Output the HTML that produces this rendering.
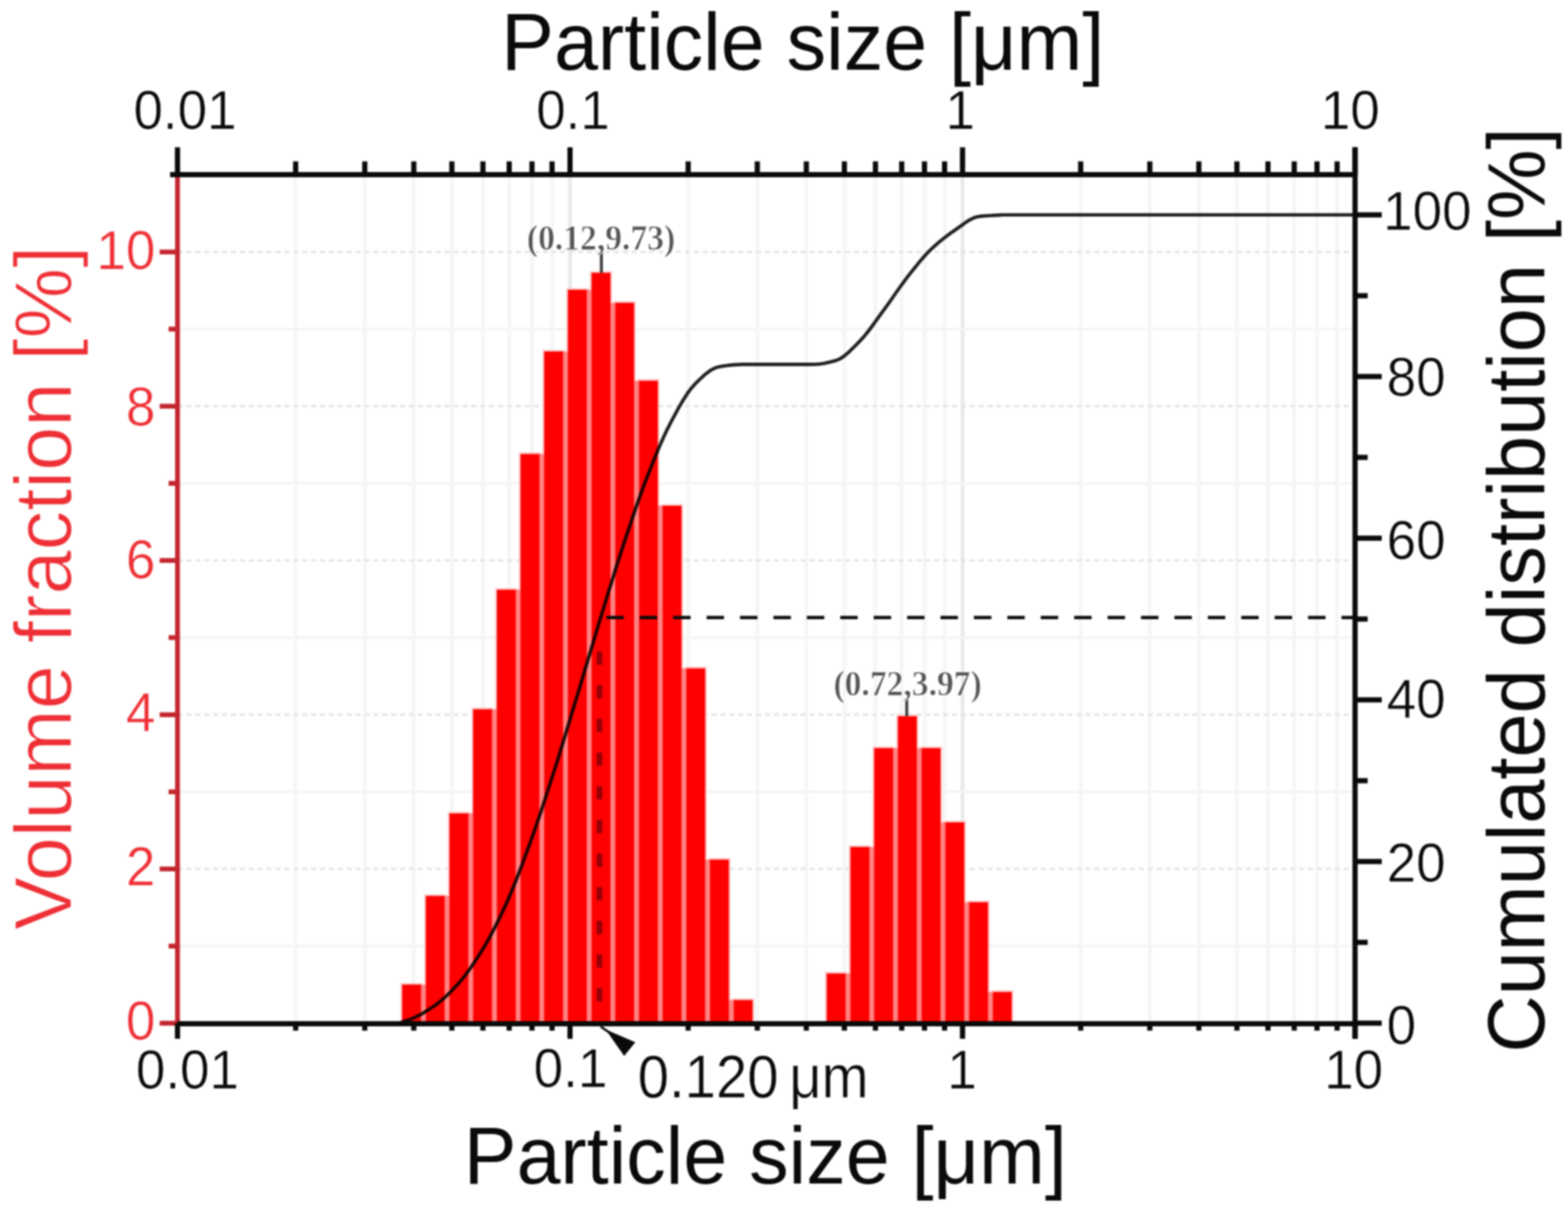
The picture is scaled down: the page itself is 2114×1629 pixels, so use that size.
<!DOCTYPE html>
<html><head><meta charset="utf-8"><title>Particle size distribution</title>
<style>
html,body{margin:0;padding:0;background:#fff;}
body{width:2114px;height:1629px;overflow:hidden;}
svg{display:block;filter:blur(0.9px);}
.s{font-family:"Liberation Sans",Arial,Helvetica,sans-serif;}
.lt{font-family:"Liberation Sans",Arial,Helvetica,sans-serif;stroke:#fff;stroke-width:1.3px;paint-order:fill;}
.l{font-family:"Liberation Sans",Arial,Helvetica,sans-serif;stroke:#fff;stroke-width:0.6px;paint-order:fill;}
.f{font-family:"Liberation Serif","Times New Roman",serif;stroke:#fff;stroke-width:0.8px;paint-order:fill;}
</style></head><body>
<svg width="2114" height="1629" viewBox="0 0 2114 1629">
<rect width="2114" height="1629" fill="#ffffff"/>
<g stroke="#f6f6f6" stroke-width="5" fill="none">
<line x1="398.6" y1="235.6" x2="398.6" y2="1379.8"/>
<line x1="491.8" y1="235.6" x2="491.8" y2="1379.8"/>
<line x1="557.9" y1="235.6" x2="557.9" y2="1379.8"/>
<line x1="609.2" y1="235.6" x2="609.2" y2="1379.8"/>
<line x1="651.1" y1="235.6" x2="651.1" y2="1379.8"/>
<line x1="686.5" y1="235.6" x2="686.5" y2="1379.8"/>
<line x1="717.2" y1="235.6" x2="717.2" y2="1379.8"/>
<line x1="744.3" y1="235.6" x2="744.3" y2="1379.8"/>
<line x1="768.5" y1="235.6" x2="768.5" y2="1379.8" stroke="#e9e9e9"/>
<line x1="927.8" y1="235.6" x2="927.8" y2="1379.8"/>
<line x1="1021.0" y1="235.6" x2="1021.0" y2="1379.8"/>
<line x1="1087.1" y1="235.6" x2="1087.1" y2="1379.8"/>
<line x1="1138.4" y1="235.6" x2="1138.4" y2="1379.8"/>
<line x1="1180.3" y1="235.6" x2="1180.3" y2="1379.8"/>
<line x1="1215.7" y1="235.6" x2="1215.7" y2="1379.8"/>
<line x1="1246.4" y1="235.6" x2="1246.4" y2="1379.8"/>
<line x1="1273.5" y1="235.6" x2="1273.5" y2="1379.8"/>
<line x1="1297.7" y1="235.6" x2="1297.7" y2="1379.8" stroke="#e9e9e9"/>
<line x1="1457.0" y1="235.6" x2="1457.0" y2="1379.8"/>
<line x1="1550.2" y1="235.6" x2="1550.2" y2="1379.8"/>
<line x1="1616.3" y1="235.6" x2="1616.3" y2="1379.8"/>
<line x1="1667.6" y1="235.6" x2="1667.6" y2="1379.8"/>
<line x1="1709.5" y1="235.6" x2="1709.5" y2="1379.8"/>
<line x1="1744.9" y1="235.6" x2="1744.9" y2="1379.8"/>
<line x1="1775.6" y1="235.6" x2="1775.6" y2="1379.8"/>
<line x1="1802.7" y1="235.6" x2="1802.7" y2="1379.8"/>
</g>
<g fill="none">
<line x1="239.3" y1="1275.8" x2="1826.9" y2="1275.8" stroke="#f5f5f5" stroke-width="4"/>
<line x1="239.3" y1="1171.8" x2="1826.9" y2="1171.8" stroke="#e4e4e4" stroke-width="3" stroke-dasharray="7 5"/>
<line x1="239.3" y1="1067.8" x2="1826.9" y2="1067.8" stroke="#f5f5f5" stroke-width="4"/>
<line x1="239.3" y1="963.8" x2="1826.9" y2="963.8" stroke="#e4e4e4" stroke-width="3" stroke-dasharray="7 5"/>
<line x1="239.3" y1="859.8" x2="1826.9" y2="859.8" stroke="#f5f5f5" stroke-width="4"/>
<line x1="239.3" y1="755.8" x2="1826.9" y2="755.8" stroke="#e4e4e4" stroke-width="3" stroke-dasharray="7 5"/>
<line x1="239.3" y1="651.8" x2="1826.9" y2="651.8" stroke="#f5f5f5" stroke-width="4"/>
<line x1="239.3" y1="547.8" x2="1826.9" y2="547.8" stroke="#e4e4e4" stroke-width="3" stroke-dasharray="7 5"/>
<line x1="239.3" y1="443.8" x2="1826.9" y2="443.8" stroke="#f5f5f5" stroke-width="4"/>
<line x1="239.3" y1="339.8" x2="1826.9" y2="339.8" stroke="#e4e4e4" stroke-width="3" stroke-dasharray="7 5"/>
</g>
<g>
<rect x="540.0" y="1325.6" width="29.8" height="54.2" fill="#ffc4c4"/>
<rect x="571.9" y="1206.0" width="29.8" height="173.8" fill="#ffc4c4"/>
<rect x="603.8" y="1094.7" width="29.8" height="285.1" fill="#ffc4c4"/>
<rect x="635.7" y="954.3" width="29.8" height="425.5" fill="#ffc4c4"/>
<rect x="667.7" y="793.1" width="29.8" height="586.7" fill="#ffc4c4"/>
<rect x="699.6" y="610.1" width="29.8" height="769.7" fill="#ffc4c4"/>
<rect x="731.5" y="471.8" width="29.8" height="908.0" fill="#ffc4c4"/>
<rect x="763.5" y="388.6" width="29.8" height="991.2" fill="#ffc4c4"/>
<rect x="795.4" y="365.7" width="29.8" height="1014.1" fill="#ffc4c4"/>
<rect x="827.3" y="406.2" width="29.8" height="973.6" fill="#ffc4c4"/>
<rect x="859.3" y="511.3" width="29.8" height="868.5" fill="#ffc4c4"/>
<rect x="891.2" y="679.8" width="29.8" height="700.0" fill="#ffc4c4"/>
<rect x="923.1" y="899.2" width="29.8" height="480.6" fill="#ffc4c4"/>
<rect x="955.0" y="1157.1" width="29.8" height="222.7" fill="#ffc4c4"/>
<rect x="987.0" y="1346.4" width="29.8" height="33.4" fill="#ffc4c4"/>
<rect x="1112.4" y="1310.6" width="29.8" height="69.2" fill="#ffc4c4"/>
<rect x="1144.4" y="1140.0" width="29.8" height="239.8" fill="#ffc4c4"/>
<rect x="1176.4" y="1006.7" width="29.8" height="373.1" fill="#ffc4c4"/>
<rect x="1208.4" y="963.7" width="29.8" height="416.1" fill="#ffc4c4"/>
<rect x="1240.4" y="1006.7" width="29.8" height="373.1" fill="#ffc4c4"/>
<rect x="1272.4" y="1106.8" width="29.8" height="273.0" fill="#ffc4c4"/>
<rect x="1304.4" y="1214.5" width="29.8" height="165.3" fill="#ffc4c4"/>
<rect x="1336.4" y="1335.5" width="29.8" height="44.3" fill="#ffc4c4"/>
<rect x="567.1" y="1327.8" width="7.5" height="52.0" fill="#ff8282"/>
<rect x="599.0" y="1208.2" width="7.5" height="171.6" fill="#ff8282"/>
<rect x="630.9" y="1096.9" width="7.5" height="282.9" fill="#ff8282"/>
<rect x="662.9" y="956.5" width="7.5" height="423.3" fill="#ff8282"/>
<rect x="694.8" y="795.3" width="7.5" height="584.5" fill="#ff8282"/>
<rect x="726.7" y="612.3" width="7.5" height="767.5" fill="#ff8282"/>
<rect x="758.6" y="474.0" width="7.5" height="905.8" fill="#ff8282"/>
<rect x="790.6" y="390.8" width="7.5" height="989.0" fill="#ff8282"/>
<rect x="822.5" y="408.4" width="7.5" height="971.4" fill="#ff8282"/>
<rect x="854.4" y="513.5" width="7.5" height="866.3" fill="#ff8282"/>
<rect x="886.4" y="682.0" width="7.5" height="697.8" fill="#ff8282"/>
<rect x="918.3" y="901.4" width="7.5" height="478.4" fill="#ff8282"/>
<rect x="950.2" y="1159.3" width="7.5" height="220.5" fill="#ff8282"/>
<rect x="982.1" y="1348.6" width="7.5" height="31.2" fill="#ff8282"/>
<rect x="1139.5" y="1312.8" width="7.6" height="67.0" fill="#ff8282"/>
<rect x="1171.5" y="1142.2" width="7.6" height="237.6" fill="#ff8282"/>
<rect x="1203.5" y="1008.9" width="7.6" height="370.9" fill="#ff8282"/>
<rect x="1235.5" y="1008.9" width="7.6" height="370.9" fill="#ff8282"/>
<rect x="1267.5" y="1109.0" width="7.6" height="270.8" fill="#ff8282"/>
<rect x="1299.5" y="1216.7" width="7.6" height="163.1" fill="#ff8282"/>
<rect x="1331.5" y="1337.7" width="7.6" height="42.1" fill="#ff8282"/>
<rect x="542.2" y="1327.8" width="25.4" height="52.0" fill="#ff0000"/>
<rect x="574.1" y="1208.2" width="25.4" height="171.6" fill="#ff0000"/>
<rect x="606.0" y="1096.9" width="25.4" height="282.9" fill="#ff0000"/>
<rect x="637.9" y="956.5" width="25.4" height="423.3" fill="#ff0000"/>
<rect x="669.9" y="795.3" width="25.4" height="584.5" fill="#ff0000"/>
<rect x="701.8" y="612.3" width="25.4" height="767.5" fill="#ff0000"/>
<rect x="733.7" y="474.0" width="25.4" height="905.8" fill="#ff0000"/>
<rect x="765.7" y="390.8" width="25.4" height="989.0" fill="#ff0000"/>
<rect x="797.6" y="367.9" width="25.4" height="1011.9" fill="#ff0000"/>
<rect x="829.5" y="408.4" width="25.4" height="971.4" fill="#ff0000"/>
<rect x="861.5" y="513.5" width="25.4" height="866.3" fill="#ff0000"/>
<rect x="893.4" y="682.0" width="25.4" height="697.8" fill="#ff0000"/>
<rect x="925.3" y="901.4" width="25.4" height="478.4" fill="#ff0000"/>
<rect x="957.2" y="1159.3" width="25.4" height="220.5" fill="#ff0000"/>
<rect x="989.2" y="1348.6" width="25.4" height="31.2" fill="#ff0000"/>
<rect x="1114.6" y="1312.8" width="25.4" height="67.0" fill="#ff0000"/>
<rect x="1146.6" y="1142.2" width="25.4" height="237.6" fill="#ff0000"/>
<rect x="1178.6" y="1008.9" width="25.4" height="370.9" fill="#ff0000"/>
<rect x="1210.6" y="965.9" width="25.4" height="413.9" fill="#ff0000"/>
<rect x="1242.6" y="1008.9" width="25.4" height="370.9" fill="#ff0000"/>
<rect x="1274.6" y="1109.0" width="25.4" height="270.8" fill="#ff0000"/>
<rect x="1306.6" y="1216.7" width="25.4" height="163.1" fill="#ff0000"/>
<rect x="1338.6" y="1337.7" width="25.4" height="42.1" fill="#ff0000"/>
</g>
<line x1="817.5" y1="832.8" x2="1826.9" y2="832.8" stroke="#0a0a0a" stroke-width="4.6" stroke-dasharray="23.5 21.55"/>
<line x1="808.2" y1="878.6" x2="808.2" y2="1379.8" stroke="#960008" stroke-width="7.5" stroke-dasharray="18 27.38"/>
<path d="M537.3,1379.8 L540.1,1378.9 L542.8,1378.1 L545.6,1377.2 L548.3,1376.3 L551.1,1375.4 L553.9,1374.3 L559.2,1372.0 L564.5,1369.4 L569.8,1366.5 L575.1,1363.3 L580.5,1359.9 L585.8,1356.3 L591.1,1352.3 L596.4,1347.9 L601.8,1343.1 L607.1,1337.9 L612.4,1332.4 L617.7,1326.6 L623.0,1320.4 L628.4,1313.6 L633.7,1306.3 L639.0,1298.6 L644.3,1290.5 L649.6,1282.1 L655.0,1273.2 L660.3,1263.7 L665.6,1253.7 L670.9,1243.1 L676.3,1232.1 L681.6,1220.7 L686.9,1208.7 L692.2,1195.9 L697.5,1182.6 L702.9,1168.7 L708.2,1154.5 L713.5,1140.0 L718.8,1125.2 L724.2,1109.8 L729.5,1093.9 L734.8,1077.8 L740.1,1061.4 L745.4,1044.9 L750.8,1028.1 L756.1,1011.0 L761.4,993.6 L766.7,976.1 L772.0,958.5 L777.4,940.9 L782.7,923.3 L788.0,905.5 L793.3,887.6 L798.7,869.8 L804.0,852.1 L809.3,834.6 L814.6,817.2 L819.9,799.8 L825.3,782.6 L830.6,765.5 L835.9,748.8 L841.2,732.5 L846.6,716.5 L851.9,700.7 L857.2,685.1 L862.5,670.0 L867.8,655.4 L873.2,641.5 L878.5,628.0 L883.8,614.9 L889.1,602.1 L894.4,590.0 L899.8,578.6 L905.1,568.2 L910.4,558.3 L915.7,548.6 L921.1,539.5 L926.4,531.2 L931.7,523.9 L937.0,517.9 L942.3,512.6 L947.7,507.6 L953.0,503.1 L958.3,499.2 L963.6,496.4 L968.9,494.7 L974.3,493.8 L979.6,493.0 L984.9,492.4 L990.2,491.9 L995.6,491.6 L1000.9,491.4 L1016.6,491.4 L1032.4,491.4 L1048.1,491.4 L1063.8,491.4 L1079.6,491.4 L1095.3,491.4 L1100.6,491.3 L1106.0,490.7 L1111.3,489.9 L1116.6,488.7 L1122.0,487.4 L1127.3,486.0 L1132.6,483.8 L1138.0,480.3 L1143.3,475.8 L1148.6,470.7 L1154.0,465.3 L1159.3,459.8 L1164.6,454.1 L1170.0,447.5 L1175.3,440.5 L1180.6,433.2 L1186.0,425.7 L1191.3,418.4 L1196.6,411.1 L1202.0,403.5 L1207.3,395.8 L1212.6,388.2 L1218.0,380.8 L1223.3,373.7 L1228.6,366.9 L1234.0,360.2 L1239.3,353.6 L1244.6,347.4 L1250.0,341.5 L1255.3,336.1 L1260.6,331.2 L1266.0,326.6 L1271.3,322.2 L1276.6,318.1 L1282.0,314.2 L1287.3,310.5 L1292.6,306.7 L1298.0,302.8 L1303.3,299.0 L1308.6,295.8 L1314.0,293.3 L1319.3,292.0 L1324.6,291.4 L1330.0,291.0 L1335.3,290.7 L1340.6,290.4 L1346.0,290.1 L1351.3,289.8 L1826.9,289.8" fill="none" stroke="#000000" stroke-opacity="0.88" stroke-width="4.6" stroke-linejoin="round"/>
<g stroke="#c3262f" stroke-width="6.5" fill="none">
<line x1="239.3" y1="235.6" x2="239.3" y2="1382.8"/>
<line x1="215.3" y1="1379.8" x2="239.3" y2="1379.8"/>
<line x1="227.3" y1="1275.8" x2="239.3" y2="1275.8"/>
<line x1="215.3" y1="1171.8" x2="239.3" y2="1171.8"/>
<line x1="227.3" y1="1067.8" x2="239.3" y2="1067.8"/>
<line x1="215.3" y1="963.8" x2="239.3" y2="963.8"/>
<line x1="227.3" y1="859.8" x2="239.3" y2="859.8"/>
<line x1="215.3" y1="755.8" x2="239.3" y2="755.8"/>
<line x1="227.3" y1="651.8" x2="239.3" y2="651.8"/>
<line x1="215.3" y1="547.8" x2="239.3" y2="547.8"/>
<line x1="227.3" y1="443.8" x2="239.3" y2="443.8"/>
<line x1="215.3" y1="339.8" x2="239.3" y2="339.8"/>
</g>
<g stroke="#0a0a0a" stroke-width="7" fill="none">
<line x1="229.3" y1="235.6" x2="1829.9" y2="235.6"/>
<line x1="239.3" y1="1380.6" x2="1829.9" y2="1380.6"/>
<line x1="1826.9" y1="198.6" x2="1826.9" y2="1400.8"/>
<line x1="239.3" y1="198.6" x2="239.3" y2="235.6"/>
<line x1="239.3" y1="1379.8" x2="239.3" y2="1400.8"/>
<line x1="398.6" y1="217.6" x2="398.6" y2="235.6"/>
<line x1="398.6" y1="1379.8" x2="398.6" y2="1389.8"/>
<line x1="491.8" y1="217.6" x2="491.8" y2="235.6"/>
<line x1="491.8" y1="1379.8" x2="491.8" y2="1389.8"/>
<line x1="557.9" y1="217.6" x2="557.9" y2="235.6"/>
<line x1="557.9" y1="1379.8" x2="557.9" y2="1389.8"/>
<line x1="609.2" y1="217.6" x2="609.2" y2="235.6"/>
<line x1="609.2" y1="1379.8" x2="609.2" y2="1389.8"/>
<line x1="651.1" y1="217.6" x2="651.1" y2="235.6"/>
<line x1="651.1" y1="1379.8" x2="651.1" y2="1389.8"/>
<line x1="686.5" y1="217.6" x2="686.5" y2="235.6"/>
<line x1="686.5" y1="1379.8" x2="686.5" y2="1389.8"/>
<line x1="717.2" y1="217.6" x2="717.2" y2="235.6"/>
<line x1="717.2" y1="1379.8" x2="717.2" y2="1389.8"/>
<line x1="744.3" y1="217.6" x2="744.3" y2="235.6"/>
<line x1="744.3" y1="1379.8" x2="744.3" y2="1389.8"/>
<line x1="768.5" y1="198.6" x2="768.5" y2="235.6"/>
<line x1="768.5" y1="1379.8" x2="768.5" y2="1400.8"/>
<line x1="927.8" y1="217.6" x2="927.8" y2="235.6"/>
<line x1="927.8" y1="1379.8" x2="927.8" y2="1389.8"/>
<line x1="1021.0" y1="217.6" x2="1021.0" y2="235.6"/>
<line x1="1021.0" y1="1379.8" x2="1021.0" y2="1389.8"/>
<line x1="1087.1" y1="217.6" x2="1087.1" y2="235.6"/>
<line x1="1087.1" y1="1379.8" x2="1087.1" y2="1389.8"/>
<line x1="1138.4" y1="217.6" x2="1138.4" y2="235.6"/>
<line x1="1138.4" y1="1379.8" x2="1138.4" y2="1389.8"/>
<line x1="1180.3" y1="217.6" x2="1180.3" y2="235.6"/>
<line x1="1180.3" y1="1379.8" x2="1180.3" y2="1389.8"/>
<line x1="1215.7" y1="217.6" x2="1215.7" y2="235.6"/>
<line x1="1215.7" y1="1379.8" x2="1215.7" y2="1389.8"/>
<line x1="1246.4" y1="217.6" x2="1246.4" y2="235.6"/>
<line x1="1246.4" y1="1379.8" x2="1246.4" y2="1389.8"/>
<line x1="1273.5" y1="217.6" x2="1273.5" y2="235.6"/>
<line x1="1273.5" y1="1379.8" x2="1273.5" y2="1389.8"/>
<line x1="1297.7" y1="198.6" x2="1297.7" y2="235.6"/>
<line x1="1297.7" y1="1379.8" x2="1297.7" y2="1400.8"/>
<line x1="1457.0" y1="217.6" x2="1457.0" y2="235.6"/>
<line x1="1457.0" y1="1379.8" x2="1457.0" y2="1389.8"/>
<line x1="1550.2" y1="217.6" x2="1550.2" y2="235.6"/>
<line x1="1550.2" y1="1379.8" x2="1550.2" y2="1389.8"/>
<line x1="1616.3" y1="217.6" x2="1616.3" y2="235.6"/>
<line x1="1616.3" y1="1379.8" x2="1616.3" y2="1389.8"/>
<line x1="1667.6" y1="217.6" x2="1667.6" y2="235.6"/>
<line x1="1667.6" y1="1379.8" x2="1667.6" y2="1389.8"/>
<line x1="1709.5" y1="217.6" x2="1709.5" y2="235.6"/>
<line x1="1709.5" y1="1379.8" x2="1709.5" y2="1389.8"/>
<line x1="1744.9" y1="217.6" x2="1744.9" y2="235.6"/>
<line x1="1744.9" y1="1379.8" x2="1744.9" y2="1389.8"/>
<line x1="1775.6" y1="217.6" x2="1775.6" y2="235.6"/>
<line x1="1775.6" y1="1379.8" x2="1775.6" y2="1389.8"/>
<line x1="1802.7" y1="217.6" x2="1802.7" y2="235.6"/>
<line x1="1802.7" y1="1379.8" x2="1802.7" y2="1389.8"/>
<line x1="1826.9" y1="198.6" x2="1826.9" y2="235.6"/>
<line x1="1826.9" y1="1379.8" x2="1826.9" y2="1400.8"/>
<line x1="1826.9" y1="1379.8" x2="1862.9" y2="1379.8"/>
<line x1="1826.9" y1="1270.8" x2="1843.9" y2="1270.8"/>
<line x1="1826.9" y1="1161.8" x2="1862.9" y2="1161.8"/>
<line x1="1826.9" y1="1052.8" x2="1843.9" y2="1052.8"/>
<line x1="1826.9" y1="943.8" x2="1862.9" y2="943.8"/>
<line x1="1826.9" y1="834.8" x2="1843.9" y2="834.8"/>
<line x1="1826.9" y1="725.8" x2="1862.9" y2="725.8"/>
<line x1="1826.9" y1="616.8" x2="1843.9" y2="616.8"/>
<line x1="1826.9" y1="507.8" x2="1862.9" y2="507.8"/>
<line x1="1826.9" y1="398.8" x2="1843.9" y2="398.8"/>
<line x1="1826.9" y1="289.8" x2="1862.9" y2="289.8"/>
</g>
<line x1="810" y1="1384.5" x2="824" y2="1394" stroke="#0a0a0a" stroke-width="3.2"/>
<polygon points="816.5,1388.2 856.5,1405.5 841.5,1424" fill="#0a0a0a"/>
<line x1="810.8" y1="340" x2="810.8" y2="367.9" stroke="#3a3a3a" stroke-width="4"/>
<line x1="1222.5" y1="942" x2="1222.5" y2="965.9" stroke="#3a3a3a" stroke-width="4"/>
<text class="s" transform="translate(1082.3,93.6) scale(1,1.02)" font-size="106.5" text-anchor="middle" fill="#0a0a0a" >Particle size [μm]</text>
<text class="s" transform="translate(1031.8,1595.9) scale(1,1.02)" font-size="106.5" text-anchor="middle" fill="#0a0a0a" >Particle size [μm]</text>
<text class="lt" font-size="107.1" text-anchor="middle" fill="#ee2f35" transform="translate(95.8,792.8) rotate(-90) scale(1,1.02)">Volume fraction [%]</text>
<text class="s" font-size="106.9" text-anchor="middle" fill="#0a0a0a" transform="translate(2081.5,795.7) rotate(-90) scale(1,1.02)">Cumulated distribution [%]</text>
<text class="l" transform="translate(179.9,174) scale(1,1.03)" font-size="71.4" text-anchor="start" fill="#0a0a0a" >0.01</text>
<text class="l" transform="translate(722.9,174) scale(1,1.03)" font-size="71.4" text-anchor="start" fill="#0a0a0a" >0.1</text>
<text class="l" transform="translate(1274.8,174) scale(1,1.03)" font-size="71.4" text-anchor="start" fill="#0a0a0a" >1</text>
<text class="l" transform="translate(1780.8,174) scale(1,1.03)" font-size="71.4" text-anchor="start" fill="#0a0a0a" >10</text>
<text class="l" transform="translate(183.3,1468) scale(1,1.03)" font-size="71.4" text-anchor="start" fill="#0a0a0a" >0.01</text>
<text class="l" transform="translate(719.6,1466.3) scale(1,1.03)" font-size="71.4" text-anchor="start" fill="#0a0a0a" >0.1</text>
<text class="l" transform="translate(1277.3,1467.7) scale(1,1.03)" font-size="71.4" text-anchor="start" fill="#0a0a0a" >1</text>
<text class="l" transform="translate(1785.4,1468.4) scale(1,1.03)" font-size="71.4" text-anchor="start" fill="#0a0a0a" >10</text>
<text class="l" transform="translate(209.4,1401.6) scale(1,1.03)" font-size="71.4" text-anchor="end" fill="#ee2f35" >0</text>
<text class="l" transform="translate(209.4,1194.1) scale(1,1.03)" font-size="71.4" text-anchor="end" fill="#ee2f35" >2</text>
<text class="l" transform="translate(209.4,986.4) scale(1,1.03)" font-size="71.4" text-anchor="end" fill="#ee2f35" >4</text>
<text class="l" transform="translate(209.4,780.3) scale(1,1.03)" font-size="71.4" text-anchor="end" fill="#ee2f35" >6</text>
<text class="l" transform="translate(209.4,574.4) scale(1,1.03)" font-size="71.4" text-anchor="end" fill="#ee2f35" >8</text>
<text class="l" transform="translate(209.4,363.4) scale(1,1.03)" font-size="71.4" text-anchor="end" fill="#ee2f35" >10</text>
<text class="l" transform="translate(1869.5,1408.1) scale(1,1.03)" font-size="71.4" text-anchor="start" fill="#0a0a0a" >0</text>
<text class="l" transform="translate(1869.5,1189.1) scale(1,1.03)" font-size="71.4" text-anchor="start" fill="#0a0a0a" >20</text>
<text class="l" transform="translate(1869.5,968.1) scale(1,1.03)" font-size="71.4" text-anchor="start" fill="#0a0a0a" >40</text>
<text class="l" transform="translate(1869.5,754.1) scale(1,1.03)" font-size="71.4" text-anchor="start" fill="#0a0a0a" >60</text>
<text class="l" transform="translate(1869.5,534.1) scale(1,1.03)" font-size="71.4" text-anchor="start" fill="#0a0a0a" >80</text>
<text class="l" transform="translate(1864.8,310.1) scale(1,1.03)" font-size="71.4" text-anchor="start" fill="#0a0a0a" >100</text>
<text class="l" transform="translate(859.7,1480.3) scale(1,1.085)" font-size="76" text-anchor="start" fill="#0a0a0a" >0.120<tspan dx="-7.0"> μm</tspan></text>
<text class="f" transform="translate(810.3,336.8) scale(1,1.06)" font-size="45.3" text-anchor="middle" fill="#545454" font-weight="bold">(0.12,9.73)</text>
<text class="f" transform="translate(1223.6,937.7) scale(1,1.06)" font-size="45.3" text-anchor="middle" fill="#545454" font-weight="bold">(0.72,3.97)</text>
</svg>
</body></html>
